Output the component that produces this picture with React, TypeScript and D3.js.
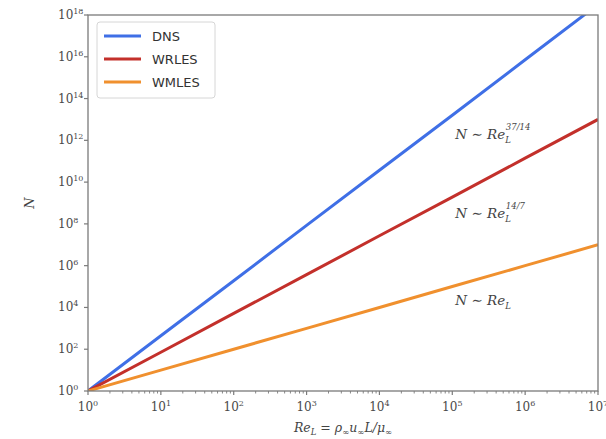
import React, { useRef, useEffect } from "react";
import * as d3 from "d3";

// Reynolds number (x) at each decade
const reValues = [1e0, 1e1, 1e2, 1e3, 1e4, 1e5, 1e6, 1e7];
// grid point estimates
const dnsValues = [1, 4.4e2, 1.9e5, 8.5e7, 3.7e10, 1.6e13, 7.2e15, 3.2e18];
const wrlesValues = [1, 7.2e1, 5.2e3, 3.7e5, 2.7e7, 1.9e9, 1.4e11, 1e13];
const wmlesValues = [1, 1e1, 1e2, 1e3, 1e4, 1e5, 1e6, 1e7];

const seriesNames = ["DNS", "WRLES", "WMLES"];
const seriesColors = ["#3f6fe6", "#c3302b", "#f0902e"];

const xTickExps = [0, 1, 2, 3, 4, 5, 6, 7];
const yTickExps = [0, 2, 4, 6, 8, 10, 12, 14, 16, 18];

const annotations = [
  { base: "Re", sub: "L", sup: "37/14", x: 1.1e5, y: 1.2e12 },
  { base: "Re", sub: "L", sup: "14/7", x: 1.1e5, y: 2e8 },
  { base: "Re", sub: "L", sup: "", x: 1.1e5, y: 1.3e4 },
];

const App = () => {
  const svgRef = useRef(null);

  useEffect(() => {
    const width = 606;
    const height = 439;
    const margin = { left: 88, right: 8, top: 15, bottom: 48 };
    const svg = d3.select(svgRef.current);
    svg.selectAll("*").remove();

    const x = d3
      .scaleLog()
      .domain([1, 1e7])
      .range([margin.left, width - margin.right]);
    const y = d3
      .scaleLog()
      .domain([1, 1e18])
      .range([height - margin.bottom, margin.top]);

    svg
      .append("defs")
      .append("clipPath")
      .attr("id", "plotclip")
      .append("rect")
      .attr("x", margin.left)
      .attr("y", margin.top)
      .attr("width", width - margin.left - margin.right)
      .attr("height", height - margin.top - margin.bottom);

    const all = [dnsValues, wrlesValues, wmlesValues];
    const line = d3
      .line<number>()
      .x((d, i) => x(reValues[i]))
      .y((d) => y(d));

    const lines = svg.append("g").attr("clip-path", "url(#plotclip)");
    all.forEach((vals, i) => {
      lines
        .append("path")
        .attr("d", line(vals))
        .attr("fill", "none")
        .attr("stroke", seriesColors[i])
        .attr("stroke-width", 3);
    });

    // frame
    const axisColor = "#7a7a7a";
    svg
      .append("rect")
      .attr("x", margin.left)
      .attr("y", margin.top)
      .attr("width", width - margin.left - margin.right)
      .attr("height", height - margin.top - margin.bottom)
      .attr("fill", "none")
      .attr("stroke", axisColor)
      .attr("stroke-width", 1.3);

    const tickFont = "'DejaVu Serif', serif";

    // x ticks
    const gx = svg.append("g");
    xTickExps.forEach((e) => {
      const px = x(Math.pow(10, e));
      gx.append("line")
        .attr("x1", px).attr("x2", px)
        .attr("y1", y(1)).attr("y2", y(1) + 4)
        .attr("stroke", axisColor).attr("stroke-width", 1.2);
      const t = gx
        .append("text")
        .attr("x", px)
        .attr("y", y(1) + 20)
        .attr("text-anchor", "middle")
        .attr("font-family", tickFont)
        .attr("font-size", 12)
        .attr("fill", "#4a4a4a");
      t.append("tspan").text("10");
      t.append("tspan").attr("dy", -5).attr("font-size", 8).text(String(e));
      if (e < 7) {
        for (let m = 2; m < 10; m++) {
          const mx = x(m * Math.pow(10, e));
          gx.append("line")
            .attr("x1", mx).attr("x2", mx)
            .attr("y1", y(1)).attr("y2", y(1) + 2.5)
            .attr("stroke", axisColor).attr("stroke-width", 0.9);
        }
      }
    });

    // y ticks
    const gy = svg.append("g");
    yTickExps.forEach((e) => {
      const py = y(Math.pow(10, e));
      gy.append("line")
        .attr("x1", margin.left - 4).attr("x2", margin.left)
        .attr("y1", py).attr("y2", py)
        .attr("stroke", axisColor).attr("stroke-width", 1.2);
      const t = gy
        .append("text")
        .attr("x", margin.left - 30)
        .attr("y", py + 4)
        .attr("text-anchor", "start")
        .attr("font-family", tickFont)
        .attr("font-size", 12)
        .attr("fill", "#4a4a4a");
      t.append("tspan").text("10");
      t.append("tspan").attr("dy", -5).attr("font-size", 8).text(String(e));
    });

    // axis labels
    svg
      .append("text")
      .attr("transform", `translate(34, ${(margin.top + height - margin.bottom) / 2}) rotate(-90)`)
      .attr("text-anchor", "middle")
      .attr("font-family", tickFont)
      .attr("font-style", "italic")
      .attr("font-size", 13)
      .attr("fill", "#444")
      .text("N");

    const xl = svg
      .append("text")
      .attr("x", 343)
      .attr("y", 432)
      .attr("text-anchor", "middle")
      .attr("font-family", tickFont)
      .attr("font-style", "italic")
      .attr("font-size", 12.5)
      .attr("fill", "#444");
    xl.append("tspan").text("Re");
    xl.append("tspan").attr("dy", 3).attr("font-size", 8.5).text("L");
    xl.append("tspan").attr("dy", -3).text(" = ρ");
    xl.append("tspan").attr("dy", 3).attr("font-size", 8.5).text("∞");
    xl.append("tspan").attr("dy", -3).text("u");
    xl.append("tspan").attr("dy", 3).attr("font-size", 8.5).text("∞");
    xl.append("tspan").attr("dy", -3).text("L/μ");
    xl.append("tspan").attr("dy", 3).attr("font-size", 8.5).text("∞");

    // annotations
    annotations.forEach((a) => {
      const t = svg
        .append("text")
        .attr("x", x(a.x))
        .attr("y", y(a.y))
        .attr("font-family", tickFont)
        .attr("font-style", "italic")
        .attr("font-size", 13.5)
        .attr("fill", "#444");
      t.append("tspan").text("N ∼ " + a.base);
      t.append("tspan").attr("dy", 4).attr("font-size", 8.5).text(a.sub);
      if (a.sup) {
        t.append("tspan").attr("dx", -5).attr("dy", -13).attr("font-size", 8.5).text(a.sup);
      }
    });

    // legend
    const lg = svg.append("g").attr("transform", "translate(97, 22)");
    lg.append("rect")
      .attr("width", 118)
      .attr("height", 76)
      .attr("rx", 3)
      .attr("fill", "white")
      .attr("stroke", "#d6d6d6");
    seriesNames.forEach((name, i) => {
      const ly = 14 + i * 23;
      lg.append("line")
        .attr("x1", 7).attr("x2", 44)
        .attr("y1", ly).attr("y2", ly)
        .attr("stroke", seriesColors[i])
        .attr("stroke-width", 3);
      lg.append("text")
        .attr("x", 55)
        .attr("y", ly + 5)
        .attr("font-family", "'DejaVu Sans', sans-serif")
        .attr("font-size", 13)
        .attr("fill", "#333")
        .text(name);
    });
  }, []);

  return (
    <svg
      ref={svgRef}
      width={606}
      height={439}
      style={{ position: "absolute", left: 0, top: 0, background: "white" }}
    />
  );
};

export default App;
